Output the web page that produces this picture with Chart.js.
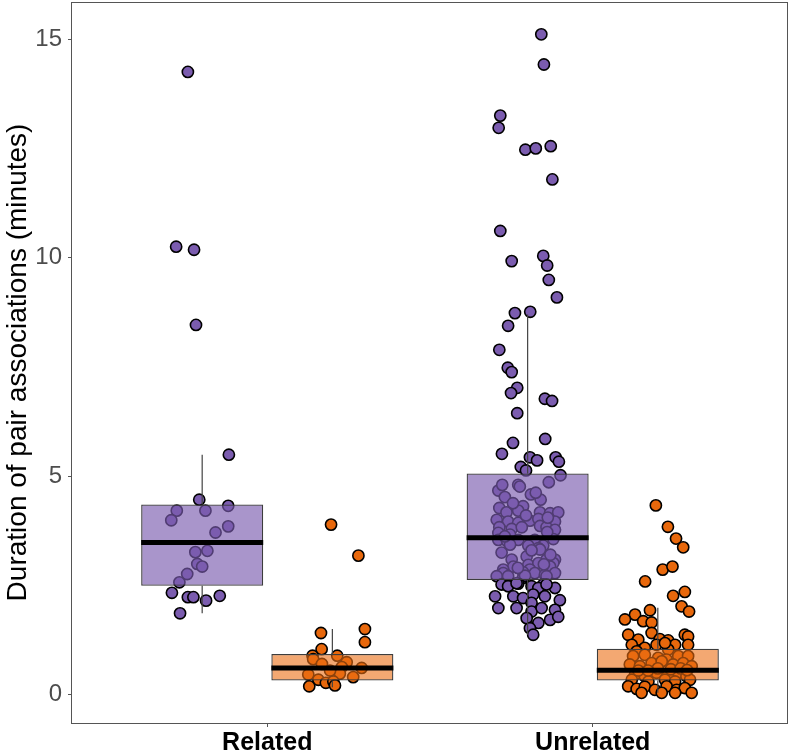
<!DOCTYPE html>
<html lang="en">
<head>
  <meta charset="UTF-8">
  <title>Duration of pair associations</title>
  <script src="https://cdn.jsdelivr.net/npm/chart.js"></script>
  <style>
    body {
      margin: 0;
      background: #ffffff;
    }
    canvas {
      display: block;
    }
  </style>
</head>
<body>
  <canvas id="assocChart" width="792" height="755"></canvas>

  <script>
    const categories = ['Related', 'Unrelated'];
    const yTicks = [0, 5, 10, 15];

    // box order: Related purple, Related orange, Unrelated purple, Unrelated orange
    const boxLow    = [1.86, 0.17, 1.37, 0.04];
    const boxQ1     = [2.49, 0.32, 2.62, 0.32];
    const boxMedian = [3.48, 0.61, 3.59, 0.56];
    const boxQ3     = [4.35, 0.93, 5.06, 1.05];
    const boxHigh   = [5.49, 1.50, 8.70, 1.99];

    // jittered points: y value + horizontal jitter (category units)
    const relPurpleY = [14.25, 10.25, 10.18, 8.46, 5.49, 4.46, 4.21, 4.21, 4.32, 3.99, 3.85, 3.71, 3.29, 3.26, 2.99, 2.93, 2.76, 2.57, 2.33, 2.23, 2.23, 2.15, 2.26, 1.86];
    const relPurpleJ = [-0.044, -0.080, -0.025, -0.019, 0.082, -0.009, -0.078, 0.010, 0.080, -0.095, 0.080, 0.041, 0.016, -0.021, -0.015, 0.000, -0.046, -0.070, -0.093, -0.044, -0.027, 0.012, 0.054, -0.068];

    const relOrangeY = [3.89, 3.18, 1.41, 1.50, 1.20, 1.04, 0.89, 0.89, 0.81, 0.74, 0.63, 0.61, 0.46, 0.48, 0.40, 0.34, 0.27, 0.30, 0.19, 0.21, 0.55, 0.70];
    const relOrangeJ = [-0.004, 0.080, -0.035, 0.100, 0.100, -0.033, -0.061, 0.015, -0.059, 0.044, 0.029, 0.090, -0.074, 0.023, 0.064, -0.043, -0.020, 0.003, -0.071, 0.008, -0.007, -0.032];

    const unrPurpleY = [15.11, 14.42, 13.25, 12.97, 12.47, 12.50, 12.55, 11.79, 10.61, 9.92, 10.04, 9.82, 9.49, 9.09, 8.73, 8.76, 8.44, 7.89, 7.48, 7.38, 7.02, 6.90, 6.77, 6.72, 6.44, 5.85, 5.76, 5.51, 5.43, 5.36, 5.43, 5.33, 5.21, 5.13, 5.02, 4.86,
      4.67, 4.80, 4.80, 4.76, 4.52, 4.46, 4.31, 4.27, 4.17, 4.21, 4.17, 4.15, 4.17, 4.00, 3.96, 3.93, 3.98, 4.02, 3.96, 3.83, 3.79, 3.83, 3.86, 3.83, 3.77, 3.66, 3.70, 3.54, 3.51, 3.54, 3.54, 3.56, 3.43, 3.41, 3.41, 3.35, 3.32, 3.16, 3.09, 3.09, 3.09, 2.97, 3.01, 3.01, 2.93, 2.93, 2.86, 2.86, 2.78, 2.80, 2.78, 2.74, 2.78, 2.71, 2.71, 2.67, 2.72, 2.71,
      2.52, 2.54, 2.48, 2.52, 2.44, 2.48, 2.55, 2.44, 2.52, 2.25, 2.25, 2.21, 2.29, 2.25, 2.16, 2.10, 1.98, 1.98, 1.90, 1.98, 1.94, 1.75, 1.71, 1.78, 1.64, 1.52, 1.37,
      4.58, 4.38, 4.05, 3.62, 3.25, 3.20, 2.90, 4.62, 4.10, 3.72, 3.30, 2.98];
    const unrPurpleJ = [0.042, 0.050, -0.084, -0.089, -0.007, 0.025, 0.071, 0.076, -0.084, -0.049, 0.048, 0.060, 0.065, 0.090, -0.039, 0.008, -0.060, -0.087, -0.061, -0.049, -0.032, -0.051, 0.053, 0.075, -0.032, 0.054, -0.045, -0.079, 0.007, 0.029, 0.086, 0.096, -0.021, -0.005, 0.101, 0.065,
      -0.090, -0.078, -0.029, -0.024, -0.070, 0.040, -0.014, -0.087, -0.065, -0.029, 0.038, 0.069, 0.094, -0.095, -0.060, -0.029, 0.007, 0.033, 0.084, -0.087, -0.049, -0.018, 0.038, 0.058, 0.084, -0.054, -0.090, -0.090, -0.063, -0.029, 0.022, 0.079, -0.054, 0.002, 0.048, 0.033, 0.038, -0.003, -0.049, 0.058, 0.084, 0.002, 0.033, 0.079, -0.044, 0.069, -0.075, 0.007, -0.075, -0.014, 0.022, 0.053, 0.084, -0.095, -0.060, -0.014, -0.008, 0.058,
      -0.080, -0.029, 0.012, 0.048, 0.084, -0.060, -0.034, 0.033, 0.058, -0.100, -0.044, -0.014, 0.017, 0.053, 0.099, 0.012, -0.090, -0.034, 0.012, 0.043, 0.084, -0.003, 0.069, 0.094, 0.033, 0.007, 0.017,
      0.010, -0.045, 0.062, -0.070, -0.080, 0.070, -0.030, 0.025, -0.005, 0.060, 0.012, 0.050];

    const unrOrangeY = [4.33, 3.84, 3.57, 3.37, 2.86, 2.93, 2.59, 2.26, 2.35, 2.02, 1.90, 1.93, 1.83, 1.72, 1.68, 1.65, 1.37, 1.26, 1.41, 1.27, 1.24, 1.37, 1.33, 1.14, 1.14, 1.03, 1.14, 1.07, 1.14, 1.18, 0.99, 0.88, 0.91, 0.84, 0.80, 0.88, 0.88, 0.69, 0.65, 0.72, 0.76, 0.69, 0.72, 0.65, 0.46, 0.42, 0.50, 0.46, 0.50, 0.42, 0.34, 0.30, 0.34, 0.30, 0.34, 0.19, 0.13, 0.18, 0.11, 0.19, 0.11, 0.15, 0.04, 0.04, 0.04, 0.04, 0.55, 0.60, 0.58, 0.60, 0.55, 0.56];
    const unrOrangeJ = [-0.006, 0.031, 0.056, 0.078, 0.015, 0.045, -0.039, 0.047, 0.083, 0.073, 0.096, -0.024, -0.070, -0.101, -0.045, -0.019, -0.091, -0.060, -0.019, 0.006, 0.032, 0.083, 0.093, 0.093, 0.053, 0.032, -0.080, -0.040, -0.004, 0.022, -0.065, -0.076, -0.040, 0.001, 0.027, 0.063, 0.093, -0.086, -0.055, -0.019, 0.012, 0.047, 0.078, 0.104, -0.070, -0.040, -0.004, 0.032, 0.063, 0.088, -0.080, -0.029, 0.022, 0.053, 0.099, -0.091, -0.065, -0.040, -0.009, 0.027, 0.058, 0.083, 0.104, -0.050, 0.012, 0.053, -0.060, 0.000, 0.040, 0.070, -0.030, 0.090];

    const PURPLE = '#7b5caf';
    const ORANGE = '#e8680c';
    const DODGE = 0.2;       // purple left, orange right of each category
    const BOX_WIDTH = 0.375; // in category units

    // x centre of each box (same order as box arrays)
    const boxX = [1 - DODGE, 1 + DODGE, 2 - DODGE, 2 + DODGE];

    function jitterPoints(center, ys, js) {
      return ys.map((y, i) => ({ x: center + js[i], y: y }));
    }

    const purplePts = jitterPoints(boxX[0], relPurpleY, relPurpleJ)
      .concat(jitterPoints(boxX[2], unrPurpleY, unrPurpleJ));
    const orangePts = jitterPoints(boxX[1], relOrangeY, relOrangeJ)
      .concat(jitterPoints(boxX[3], unrOrangeY, unrOrangeJ));

    const whiskerPts = [];
    const medianPts = [];
    boxX.forEach((x, i) => {
      whiskerPts.push({ x, y: boxLow[i] }, { x, y: boxQ1[i] }, { x, y: null });
      whiskerPts.push({ x, y: boxQ3[i] }, { x, y: boxHigh[i] }, { x, y: null });
      medianPts.push({ x: x - BOX_WIDTH / 2, y: boxMedian[i] }, { x: x + BOX_WIDTH / 2, y: boxMedian[i] }, { x, y: null });
    });

    // full panel border like ggplot
    const panelBorder = {
      id: 'panelBorder',
      afterDatasetsDraw(chart) {
        const a = chart.chartArea;
        const ctx = chart.ctx;
        ctx.save();
        ctx.strokeStyle = '#555555';
        ctx.lineWidth = 1;
        ctx.strokeRect(Math.round(a.left) - 0.5, Math.round(a.top) + 0.5,
          Math.round(a.right - a.left), Math.round(a.bottom - a.top));
        ctx.restore();
      }
    };

    Chart.defaults.font.family = "'Liberation Sans', Arial, sans-serif";

    new Chart(document.getElementById('assocChart').getContext('2d'), {
      type: 'scatter',
      data: {
        datasets: [
          {
            type: 'line',
            data: medianPts,
            borderColor: '#000000',
            borderWidth: 5,
            borderCapStyle: 'butt',
            pointRadius: 0,
            fill: false,
            spanGaps: false,
            order: 0
          },
          {
            type: 'line',
            data: whiskerPts,
            borderColor: '#444444',
            borderWidth: 1.2,
            pointRadius: 0,
            fill: false,
            spanGaps: false,
            order: 1
          },
          {
            type: 'bar',
            data: boxX.map((x, i) => ({ x: x, y: [boxQ1[i], boxQ3[i]] })),
            backgroundColor: ['rgba(123,92,175,0.65)', 'rgba(235,110,20,0.6)', 'rgba(123,92,175,0.65)', 'rgba(235,110,20,0.6)'],
            borderColor: '#3d3d3d',
            borderWidth: 1.3,
            borderSkipped: false,
            categoryPercentage: 1,
            barPercentage: BOX_WIDTH / (2 * DODGE),
            order: 2
          },
          {
            data: purplePts,
            backgroundColor: PURPLE,
            borderColor: '#000000',
            borderWidth: 1.6,
            pointRadius: 5.6,
            order: 3
          },
          {
            data: orangePts,
            backgroundColor: ORANGE,
            borderColor: '#000000',
            borderWidth: 1.6,
            pointRadius: 5.6,
            order: 3
          }
        ]
      },
      options: {
        responsive: false,
        animation: false,
        layout: { autoPadding: false, padding: { top: 2, right: 4, left: 0, bottom: 0 } },
        plugins: {
          legend: { display: false },
          tooltip: { enabled: false }
        },
        scales: {
          x: {
            type: 'linear',
            min: 0.4,
            max: 2.6,
            offset: false,
            afterBuildTicks: (scale) => {
              scale.ticks = categories.map((c, i) => ({ value: i + 1 }));
            },
            afterFit: (scale) => {
              scale.height = 32;
              scale.paddingLeft = 0;
              scale.paddingRight = 0;
            },
            grid: { drawOnChartArea: false, drawTicks: true, tickLength: 4, color: '#555555', offset: false },
            border: { display: false },
            ticks: {
              autoSkip: false,
              maxRotation: 0,
              padding: 1,
              color: '#000000',
              font: { size: 25, weight: 'bold' },
              callback: (v) => categories[Math.round(v) - 1]
            }
          },
          y: {
            type: 'linear',
            min: -0.65,
            max: 15.85,
            afterBuildTicks: (scale) => {
              scale.ticks = yTicks.map(v => ({ value: v }));
            },
            afterFit: (scale) => {
              scale.width = 72;
              scale.paddingTop = 0;
              scale.paddingBottom = 0;
            },
            grid: { drawOnChartArea: false, drawTicks: true, tickLength: 4, color: '#555555' },
            border: { display: false },
            ticks: {
              padding: 6,
              color: '#4d4d4d',
              font: { size: 24 }
            },
            title: {
              display: true,
              text: 'Duration of pair associations (minutes)',
              color: '#000000',
              font: { size: 28 },
              padding: { top: 1, bottom: 0 }
            }
          }
        }
      },
      plugins: [panelBorder]
    });
  </script>
</body>
</html>
